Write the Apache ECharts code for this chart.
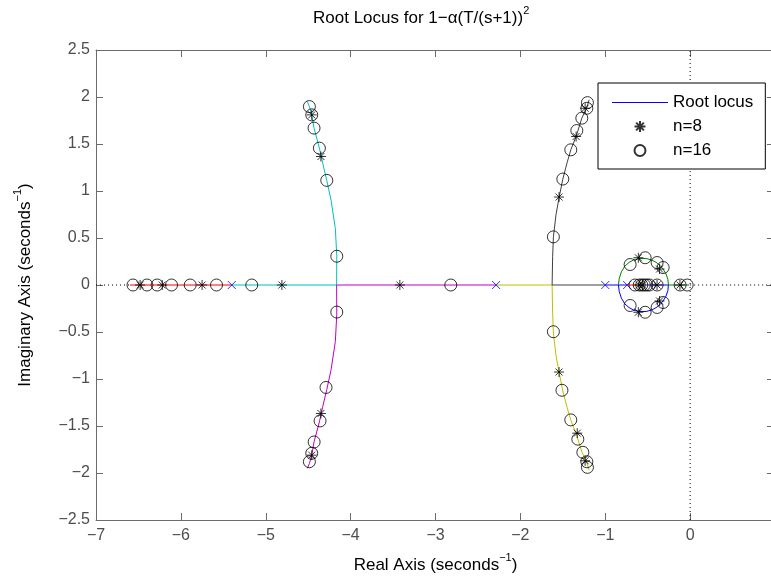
<!DOCTYPE html>
<html>
<head>
<meta charset="utf-8">
<script src="https://cdn.jsdelivr.net/npm/echarts@6/dist/echarts.min.js"></script>
<style>html,body{margin:0;padding:0;background:#fff}#c{width:771px;height:581px}</style>
</head>
<body>
<div id="c"></div>
<script>
// ---- data ----
const xTickValues = [-7, -6, -5, -4, -3, -2, -1, 0];
const yTickValues = [-2.5, -2, -1.5, -1, -0.5, 0, 0.5, 1, 1.5, 2, 2.5];

const poles = [[-5.40, 0], [-2.286, 0], [-1.0, 0], [-0.742, 0]];

const redLeft = [[-6.60, 0], [-5.40, 0]];
const cyanBranch = [[-5.40, 0], [-4.165, 0], [-4.163, 0.31], [-4.18, 0.6], [-4.23, 0.9], [-4.281, 1.113], [-4.33, 1.3], [-4.368, 1.456], [-4.431, 1.669], [-4.458, 1.81], [-4.486, 1.9], [-4.51, 1.95]];
const magentaBranch = [[-2.286, 0], [-4.165, 0], [-4.163, -0.31], [-4.18, -0.6], [-4.23, -0.9], [-4.281, -1.113], [-4.33, -1.3], [-4.368, -1.456], [-4.431, -1.669], [-4.458, -1.81], [-4.486, -1.9], [-4.51, -1.95]];
const yellowBranch = [[-2.286, 0], [-1.626, 0], [-1.62, -0.3], [-1.611, -0.512], [-1.58, -0.75], [-1.544, -0.93], [-1.50, -1.127], [-1.45, -1.3], [-1.406, -1.438], [-1.343, -1.58], [-1.276, -1.775], [-1.22, -1.88], [-1.19, -1.97]];
const blackBranch = [[-1.0, 0], [-1.626, 0], [-1.62, 0.3], [-1.611, 0.512], [-1.58, 0.75], [-1.544, 0.93], [-1.50, 1.127], [-1.45, 1.3], [-1.406, 1.438], [-1.343, 1.58], [-1.276, 1.775], [-1.22, 1.88], [-1.19, 1.97]];
const blueSegment = [[-1.0, 0], [-0.742, 0]];
const blueArc = [[-0.845, 0], [-0.835, -0.07], [-0.81, -0.14], [-0.77, -0.2], [-0.72, -0.24], [-0.66, -0.27], [-0.59, -0.282], [-0.52, -0.282], [-0.45, -0.265], [-0.39, -0.235], [-0.33, -0.185], [-0.285, -0.12], [-0.262, -0.06], [-0.256, 0], [-0.50, 0]];
const greenArc = [[-0.845, 0], [-0.835, 0.07], [-0.81, 0.14], [-0.77, 0.2], [-0.72, 0.24], [-0.66, 0.27], [-0.59, 0.282], [-0.52, 0.282], [-0.45, 0.265], [-0.39, 0.235], [-0.33, 0.185], [-0.285, 0.12], [-0.262, 0.06], [-0.256, 0], [-0.01, 0]];
const redInner = [[-0.742, 0], [-0.62, 0]];

const n8Points = [
  [-6.48, 0], [-6.22, 0], [-5.75, 0], [-4.81, 0], [-3.42, 0],
  [-4.458, 1.81], [-4.35, 1.367], [-4.458, -1.81], [-4.35, -1.367],
  [-1.237, 1.88], [-1.343, 1.58], [-1.544, 0.936], [-1.237, -1.87], [-1.33, -1.576], [-1.544, -0.926],
  [-0.61, 0.29], [-0.61, -0.29], [-0.36, 0.17], [-0.36, -0.17], [-0.39, 0], [-0.12, 0], [-0.56, 0], [-0.6, 0]
];
const n16Points = [
  [-6.564, 0], [-6.40, 0], [-6.28, 0], [-6.11, 0], [-5.89, 0], [-5.58, 0], [-5.165, 0], [-2.82, 0],
  [-4.486, 1.898], [-4.458, 1.81], [-4.431, 1.669], [-4.368, 1.456], [-4.281, 1.113], [-4.163, 0.306],
  [-4.486, -1.88], [-4.458, -1.79], [-4.43, -1.67], [-4.36, -1.446], [-4.29, -1.09], [-4.163, -0.288],
  [-1.21, 1.94], [-1.217, 1.88], [-1.276, 1.775], [-1.335, 1.643], [-1.406, 1.438], [-1.50, 1.127], [-1.611, 0.512],
  [-1.21, -1.94], [-1.217, -1.88], [-1.264, -1.78], [-1.323, -1.64], [-1.406, -1.435], [-1.51, -1.12], [-1.611, -0.497],
  [-0.707, 0.218], [-0.53, 0.29], [-0.389, 0.239], [-0.318, 0.186],
  [-0.707, -0.218], [-0.53, -0.29], [-0.389, -0.239], [-0.318, -0.186],
  [-0.389, 0], [-0.118, 0], [-0.035, 0], [-0.65, 0], [-0.6, 0], [-0.57, 0], [-0.54, 0], [-0.51, 0], [-0.48, 0]
];
// dotted zero lines (axis range), parts of y=0 not covered by the locus
const zeroHLeft = [[-7, 0], [-6.6, 0]];
const zeroHRight = [[0, 0], [1, 0]];
const zeroV = [[0, -2.5], [0, 2.5]];

// ---- chart ----
const FONT = '"Liberation Sans", Arial, Helvetica, sans-serif';
const AX = '#6b6b6b';
const LBL = '#4d4d4d';
const fmt = v => (Math.abs(v) < 1e-9 ? '0' : String(v).replace('-', '\u2212'));
const starPath = 'path://M5,0L5,10M0,5L10,5M1.5,1.5L8.5,8.5M1.5,8.5L8.5,1.5';
const xPath = 'path://M0,0L10,10M0,10L10,0';

function locus(name, data, color) {
  return { name: name, type: 'line', data: data, symbol: 'none', showSymbol: false, silent: true,
    lineStyle: { color: color, width: 1 }, itemStyle: { color: color }, z: 3 };
}
function dotted(name, data) {
  return { name: name, type: 'line', data: data, symbol: 'none', silent: true, z: 1,
    lineStyle: { color: '#000', width: 1, type: [1, 3] } };
}
const richName = {
  n: { fontSize: 17, lineHeight: 26, fontFamily: FONT, color: '#000' },
  s: { fontSize: 11, lineHeight: 11, verticalAlign: 'top', fontFamily: FONT, color: '#000' }
};

const chart = echarts.init(document.getElementById('c'), null, { renderer: 'canvas' });
chart.setOption({
  animation: false,
  backgroundColor: '#fff',
  title: {
    text: '{n|Root Locus for 1\u2212\u03b1(T/(s+1))}{s|2}',
    left: 313, top: 5, padding: 0,
    textStyle: { fontFamily: FONT, fontWeight: 'normal', color: '#000',
      rich: { n: { fontSize: 17, lineHeight: 26, fontFamily: FONT, color: '#000' },
              s: { fontSize: 11, lineHeight: 11, verticalAlign: 'top', fontFamily: FONT, color: '#000' } } }
  },
  legend: {
    data: [
      { name: 'Root locus', icon: 'path://M0,0L56,0L56,1L0,1Z', itemStyle: { color: '#0000ff', borderWidth: 0 } },
      { name: 'n=8' },
      { name: 'n=16' }
    ],
    orient: 'vertical', left: 598, top: 83,
    itemWidth: 56, itemHeight: 11, itemGap: 7,
    padding: [11, 12, 10, 14],
    backgroundColor: '#fff', borderColor: '#000', borderWidth: 1, borderRadius: 0,
    textStyle: { fontFamily: FONT, fontSize: 17, color: '#000', lineHeight: 15 },
    selectedMode: false
  },
  grid: { left: 96, top: 50, width: 679, height: 470, containLabel: false, outerBoundsMode: 'none' },
  xAxis: [{
    type: 'value', min: -7, max: 1, interval: 1,
    name: '{n|Real Axis (seconds}{s|\u22121}{n|)}', nameLocation: 'middle', nameGap: 32,
    nameTextStyle: { fontFamily: FONT, color: '#000', rich: richName },
    axisLine: { show: true, onZero: false, lineStyle: { color: AX, width: 1 } },
    axisTick: { show: true, inside: true, length: 7, lineStyle: { color: AX } },
    axisLabel: { show: true, margin: 8, fontFamily: FONT, fontSize: 16, color: LBL,
      formatter: v => (xTickValues.indexOf(v) >= 0 ? fmt(v) : '') },
    splitLine: { show: false }
  }, {
    type: 'value', min: -7, max: 1, interval: 1, position: 'top',
    axisLine: { show: true, onZero: false, lineStyle: { color: AX, width: 1 } },
    axisTick: { show: true, inside: true, length: 7, lineStyle: { color: AX } },
    axisLabel: { show: false }, splitLine: { show: false }
  }],
  yAxis: [{
    type: 'value', min: -2.5, max: 2.5, interval: 0.5,
    name: '{n|Imaginary Axis (seconds}{s|\u22121}{n|)}', nameLocation: 'middle', nameGap: 58,
    nameTextStyle: { fontFamily: FONT, color: '#000', rich: richName },
    axisLine: { show: true, onZero: false, lineStyle: { color: AX, width: 1 } },
    axisTick: { show: true, inside: true, length: 7, lineStyle: { color: AX } },
    axisLabel: { show: true, margin: 6, fontFamily: FONT, fontSize: 16, color: LBL,
      formatter: v => (yTickValues.indexOf(v) >= 0 ? fmt(v) : '') },
    splitLine: { show: false }
  }, {
    type: 'value', min: -2.5, max: 2.5, interval: 0.5, position: 'right',
    axisLine: { show: true, onZero: false, lineStyle: { color: AX, width: 1 } },
    axisTick: { show: true, inside: true, length: 8, lineStyle: { color: AX } },
    axisLabel: { show: false }, splitLine: { show: false }
  }],
  series: [
    dotted('zh1', zeroHLeft),
    dotted('zh2', zeroHRight),
    dotted('zv', zeroV),
    locus('Root locus', blueSegment, '#0000ff'),
    locus('Root locus', blueArc, '#0000ff'),
    locus('g', greenArc, '#008000'),
    locus('r1', redLeft, '#ff0000'),
    locus('r2', redInner, '#ff0000'),
    locus('c', cyanBranch, '#00bfbf'),
    locus('m', magentaBranch, '#bf00bf'),
    locus('y', yellowBranch, '#bfbf00'),
    locus('k', blackBranch, '#404040'),
    { name: 'poles', type: 'scatter', data: poles, symbol: xPath, symbolSize: 8, silent: true, z: 4,
      itemStyle: { color: 'none', borderColor: '#0000ff', borderWidth: 1 } },
    { name: 'n=8', type: 'scatter', data: n8Points, symbol: starPath, symbolSize: 10, silent: true, z: 5,
      itemStyle: { color: 'none', borderColor: '#000', borderWidth: 1 } },
    { name: 'n=16', type: 'scatter', data: n16Points, symbol: 'circle', symbolSize: 12, silent: true, z: 5,
      itemStyle: { color: 'rgba(0,0,0,0)', borderColor: '#000', borderWidth: 1 } }
  ]
});
</script>
</body>
</html>
